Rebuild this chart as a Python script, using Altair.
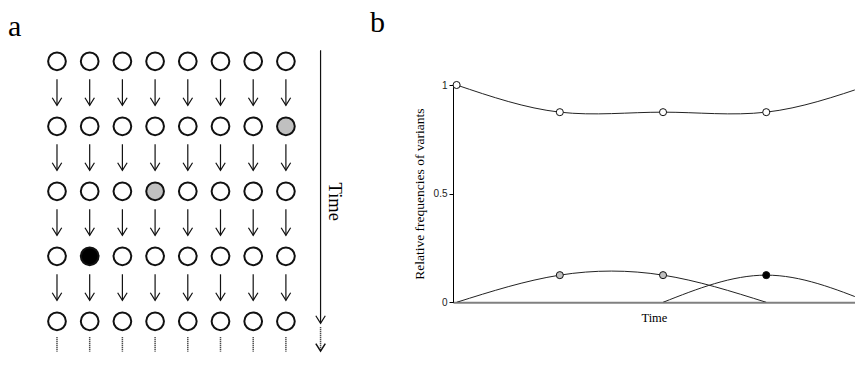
import altair as alt
import pandas as pd

# ---------------- data: panel a (population lattice) ----------------
COLUMNS = [0, 1, 2, 3, 4, 5, 6, 7]
ROWS = [0, 1, 2, 3, 4]
MUTANT_ROWS = [1, 2, 3]
MUTANT_COLS = [7, 3, 1]
MUTANT_KIND = ["gray", "gray", "black"]
TIME_LABEL = "Time"

# ---------------- data: panel b (relative frequencies) ----------------
TIME_WHITE = [0, 1, 2, 3, 4]
FREQ_WHITE = [1.0, 0.875, 0.875, 0.875, 1.0]
TIME_GRAY = [0, 1, 2, 3]
FREQ_GRAY = [0.0, 0.125, 0.125, 0.0]
TIME_BLACK = [2, 3, 4]
FREQ_BLACK = [0.0, 0.125, 0.0]
MARK_TIME = [0, 1, 2, 3, 1, 2, 3]
MARK_FREQ = [1.0, 0.875, 0.875, 0.875, 0.125, 0.125, 0.125]
MARK_KIND = ["white", "white", "white", "white", "gray", "gray", "black"]
Y_TICKS = [0, 0.5, 1]

KINDS = ["white", "gray", "black"]
FILLS = ["#ffffff", "#c0c0c0", "#000000"]
SERIF = "Liberation Serif"
SANS = "Liberation Sans"

# ---------------- tables ----------------
mut = {(r, c): k for r, c, k in zip(MUTANT_ROWS, MUTANT_COLS, MUTANT_KIND)}
cells = pd.DataFrame(
    [{"row": r, "col": c, "kind": mut.get((r, c), "white")} for r in ROWS for c in COLUMNS]
)
arrows = pd.DataFrame([{"row": r, "col": c} for r in ROWS[:-1] for c in COLUMNS])
tails = pd.DataFrame([{"row": ROWS[-1], "col": c} for c in COLUMNS])
time_axis = pd.DataFrame({"col": [len(COLUMNS)], "row": [ROWS[-1]], "label": [TIME_LABEL]})

lines = pd.concat([
    pd.DataFrame({"t": TIME_WHITE, "f": FREQ_WHITE, "kind": "white"}),
    pd.DataFrame({"t": TIME_GRAY, "f": FREQ_GRAY, "kind": "gray"}),
    pd.DataFrame({"t": TIME_BLACK, "f": FREQ_BLACK, "kind": "black"}),
])
marks = pd.DataFrame({"t": MARK_TIME, "f": MARK_FREQ, "kind": MARK_KIND})

fill_scale = alt.Scale(domain=KINDS, range=FILLS)

# ---------------- panel a ----------------
xa = alt.Scale(domain=[-1.498, 8.104], nice=False, zero=False)
ya = alt.Scale(domain=[0.3646, 4.477], reverse=True, nice=False, zero=False)

def xq(field):
    return alt.X(field, type="quantitative", scale=xa, axis=None)

def yq(field):
    return alt.Y(field, type="quantitative", scale=ya, axis=None)

circles = alt.Chart(cells).mark_circle(
    size=314, stroke="#111", strokeWidth=2, opacity=1
).encode(
    x=xq("col"), y=yq("row"),
    fill=alt.Fill("kind:N", scale=fill_scale, legend=None),
)

shafts = alt.Chart(arrows).transform_calculate(
    ya0="datum.row + 0.277", ya1="datum.row + 0.677"
).mark_rule(color="#111", strokeWidth=1.2).encode(
    x=xq("col"), y=yq("ya0"), y2="ya1:Q"
)
CHEVRON = "M-1,-1.6L0,0L1,-1.6"
heads = alt.Chart(arrows).transform_calculate(
    ya1="datum.row + 0.677"
).mark_point(shape=CHEVRON, size=90, filled=False, stroke="#111", strokeWidth=1.2, opacity=1).encode(
    x=xq("col"), y=yq("ya1")
)
dotted = alt.Chart(tails).transform_calculate(
    ya0="datum.row + 0.246", ya1="datum.row + 0.47"
).mark_rule(color="#111", strokeWidth=1.5, strokeDash=[1, 1]).encode(
    x=xq("col"), y=yq("ya0"), y2="ya1:Q"
)

time_line = alt.Chart(time_axis).transform_calculate(
    xa0="datum.col + 0.06", ya0="datum.row - 4.169", ya1="datum.row + 0.031"
).mark_rule(color="#111", strokeWidth=1.2).encode(
    x=xq("xa0"), y=yq("ya0"), y2="ya1:Q"
)
time_head = alt.Chart(time_axis).transform_calculate(
    xa0="datum.col + 0.06", ya1="datum.row + 0.031"
).mark_point(shape=CHEVRON, size=90, filled=False, stroke="#111", strokeWidth=1.2, opacity=1).encode(
    x=xq("xa0"), y=yq("ya1")
)
time_dots = alt.Chart(time_axis).transform_calculate(
    xa0="datum.col + 0.06", ya0="datum.row + 0.092", ya1="datum.row + 0.46"
).mark_rule(color="#111", strokeWidth=1.5, strokeDash=[1, 1]).encode(
    x=xq("xa0"), y=yq("ya0"), y2="ya1:Q"
)
time_head2 = alt.Chart(time_axis).transform_calculate(
    xa0="datum.col + 0.06", ya1="datum.row + 0.46"
).mark_point(shape=CHEVRON, size=90, filled=False, stroke="#111", strokeWidth=1.5, opacity=1).encode(
    x=xq("xa0"), y=yq("ya1")
)
time_text = alt.Chart(time_axis).transform_calculate(
    xa0="datum.col + 0.5", ya0="datum.row - 1.84"
).mark_text(
    angle=90, font=SERIF, fontSize=18.5, color="#000", align="center", baseline="middle"
).encode(
    x=xq("xa0"), y=yq("ya0"), text="label:N"
)

panel_a = alt.layer(
    shafts, heads, dotted, time_line, time_head, time_dots, time_head2, time_text, circles
).properties(
    width=314, height=267.3,
    title=alt.TitleParams("a", anchor="start", frame="group", font=SERIF, fontSize=30,
                          fontWeight="normal", baseline="top", offset=6.2, color="#000"),
)

# ---------------- panel b ----------------
xb = alt.Scale(domain=[-0.035, 3.858], nice=False, zero=False)
yb = alt.Scale(domain=[0, 1], nice=False, zero=False)
x_axis_b = alt.Axis(
    title="Time", labels=False, ticks=False, grid=False, domainColor="#808080",
    domainWidth=2, titleFont=SERIF, titleFontSize=12.5, titleFontWeight="normal",
    titleColor="#000", titlePadding=9,
)
y_axis_b = alt.Axis(
    title="Relative frequencies of variants", values=Y_TICKS, format="~g", grid=False,
    tickSize=4, tickColor="#000", domainColor="#000", domainWidth=1,
    labelFont=SANS, labelFontSize=10, labelColor="#222", labelPadding=2,
    titleFont=SERIF, titleFontSize=13.5, titleFontWeight="normal", titleColor="#000",
    titlePadding=7,
)

curves = alt.Chart(lines).mark_line(
    interpolate="natural", color="#222", strokeWidth=1, clip=True
).encode(
    x=alt.X("t:Q", scale=xb, axis=x_axis_b),
    y=alt.Y("f:Q", scale=yb, axis=y_axis_b),
    detail="kind:N",
)
dots = alt.Chart(marks).mark_circle(
    size=50, stroke="#111", strokeWidth=1, opacity=1
).encode(
    x=alt.X("t:Q", scale=xb),
    y=alt.Y("f:Q", scale=yb),
    fill=alt.Fill("kind:N", scale=fill_scale, legend=None),
)

panel_b = alt.layer(curves, dots).properties(
    width=401.8, height=217.3,
    title=alt.TitleParams("b", anchor="start", frame="group", font=SERIF, fontSize=30,
                          fontWeight="normal", baseline="top", offset=41,
                          dx=-83, color="#000"),
)

chart = alt.hconcat(panel_a, panel_b, spacing=26).properties(
    padding=0, background="#ffffff"
).configure_view(stroke=None)

chart.save("out.html", embed_options={"renderer": "svg", "actions": False})
